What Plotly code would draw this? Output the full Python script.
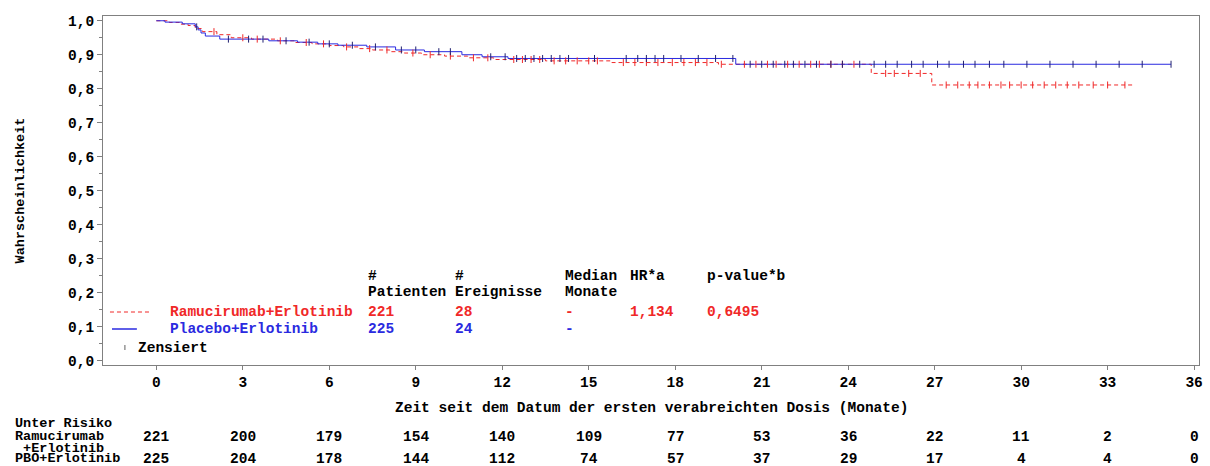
import numpy as np
import plotly.graph_objects as go

# Kaplan-Meier step data (event times in months, survival after each event)
ram_times = [0.45, 0.8, 1.1, 1.35, 1.6, 2.1, 2.6, 3.3, 4.2, 4.8, 5.4, 6.0, 6.5, 7.0,
             7.5, 8.1, 8.6, 9.2, 10.0, 10.8, 11.7, 13.5, 15.8, 19.5, 24.8, 26.9]
ram_surv = [0.995, 0.990, 0.986, 0.977, 0.968, 0.959, 0.950, 0.946, 0.941, 0.936,
            0.932, 0.927, 0.923, 0.918, 0.914, 0.909, 0.905, 0.900, 0.896, 0.891,
            0.886, 0.882, 0.877, 0.872, 0.845, 0.811]
ram_end = 33.9
ram_censor = [2.0, 3.0, 3.5, 4.3, 5.2, 5.8, 6.6, 7.4, 8.0, 8.9, 9.5, 10.2, 11.0, 11.5,
              12.4, 12.7, 13.0, 13.3, 13.8, 14.2, 14.6, 15.0, 15.3, 16.2, 16.6, 17.0,
              17.4, 17.9, 18.3, 18.7, 19.1, 19.6, 20.4, 20.8, 21.2, 21.5, 21.9, 22.3,
              22.7, 23.0, 23.4, 23.8, 24.2, 25.3, 25.6, 26.1, 26.5, 27.4, 27.8, 28.2,
              28.5, 28.9, 29.3, 29.6, 30.0, 30.4, 30.8, 31.2, 31.6, 32.0, 32.5, 33.0,
              33.6]

pbo_times = [0.3, 0.9, 1.35, 1.45, 1.55, 1.7, 2.2, 3.9, 4.9, 5.6, 6.3, 7.3, 8.3, 9.3,
             10.6, 11.3, 12.2, 20.1]
pbo_surv = [0.996, 0.991, 0.982, 0.973, 0.964, 0.955, 0.946, 0.941, 0.937, 0.932,
            0.928, 0.923, 0.914, 0.909, 0.900, 0.894, 0.889, 0.872]
pbo_end = 35.2
pbo_censor = [1.4, 2.5, 3.2, 3.7, 4.5, 5.3, 6.0, 6.8, 7.6, 8.5, 9.0, 9.8, 10.2, 11.6,
              12.1, 12.5, 12.8, 13.1, 13.4, 13.7, 14.0, 14.3, 15.2, 16.3, 16.7, 17.0,
              17.3, 17.6, 18.2, 18.8, 19.4, 20.0, 20.6, 21.0, 21.4, 21.8, 22.1, 22.5,
              22.9, 23.4, 23.8, 24.4, 24.9, 25.3, 25.7, 26.2, 26.6, 27.1, 27.5, 28.0,
              28.4, 28.9, 29.4, 30.2, 31.0, 31.8, 32.6, 33.4, 34.2, 35.2]

# Number at risk table
risk_months = [0, 3, 6, 9, 12, 15, 18, 21, 24, 27, 30, 33, 36]
risk_ram = [221, 200, 179, 154, 140, 109, 77, 53, 36, 22, 11, 2, 0]
risk_pbo = [225, 204, 178, 144, 112, 74, 57, 37, 29, 17, 4, 4, 0]

RED = "#F02828"
BLUE = "#2A2AE0"
FONT = "Liberation Mono"
FS = 14.5


def step_xy(times, surv, end):
    return [0.0] + list(times) + [end], [1.0] + list(surv) + [surv[-1]]


def surv_at(times, surv, t):
    idx = np.searchsorted(np.asarray(times), np.asarray(t), side="right")
    s = np.concatenate([[1.0], surv])
    return s[idx]


fig = go.Figure()

x, y = step_xy(ram_times, ram_surv, ram_end)
fig.add_trace(go.Scatter(x=x, y=y, mode="lines", line=dict(color=RED, width=1, dash="4px,3px"),
                         line_shape="hv", showlegend=False))
x, y = step_xy(pbo_times, pbo_surv, pbo_end)
fig.add_trace(go.Scatter(x=x, y=y, mode="lines", line=dict(color=BLUE, width=1),
                         line_shape="hv", showlegend=False))

fig.add_trace(go.Scatter(x=ram_censor, y=surv_at(ram_times, ram_surv, ram_censor), mode="markers",
                         marker=dict(symbol="line-ns", size=5, line=dict(color=RED, width=1)),
                         showlegend=False))
fig.add_trace(go.Scatter(x=pbo_censor, y=surv_at(pbo_times, pbo_surv, pbo_censor), mode="markers",
                         marker=dict(symbol="line-ns", size=5, line=dict(color="#202070", width=1)),
                         showlegend=False))

L, R, T, B = 103, 7, 16, 101
W, H = 1210, 466
PW, PH = W - L - R, H - T - B


def px(xp):
    return (xp - L) / PW


def py(yp):
    return (H - B - yp) / PH


annotations = []


def text(s, xp, yp, color="black", xanchor="left", xref="paper", size=FS):
    annotations.append(dict(text=s, x=xp if xref != "paper" else px(xp), y=py(yp),
                            xref=xref, yref="paper", xanchor=xanchor, yanchor="middle",
                            showarrow=False, font=dict(family=FONT, size=size, color=color)))


# legend block with summary statistics
text("<b>#</b>", 367, 276)
text("<b>Patienten</b>", 367, 292)
text("<b>#</b>", 454, 276)
text("<b>Ereignisse</b>", 454, 292)
text("<b>Median</b>", 565, 276)
text("<b>Monate</b>", 565, 292)
text("<b>HR*a</b>", 630, 276)
text("<b>p-value*b</b>", 707, 276)

text("<b>Ramucirumab+Erlotinib</b>", 168, 312, RED)
text("<b>221</b>", 367, 312, RED)
text("<b>28</b>", 454, 312, RED)
text("<b>-</b>", 565, 312, RED)
text("<b>1,134</b>", 630, 312, RED)
text("<b>0,6495</b>", 707, 312, RED)

text("<b>Placebo+Erlotinib</b>", 168, 329, BLUE)
text("<b>225</b>", 367, 329, BLUE)
text("<b>24</b>", 454, 329, BLUE)
text("<b>-</b>", 565, 329, BLUE)

text("<b>Zensiert</b>", 136, 348)

shapes = [
    dict(type="line", xref="paper", yref="paper", x0=px(110), x1=px(150), y0=py(312), y1=py(312),
         line=dict(color=RED, width=1, dash="4px,3px")),
    dict(type="line", xref="paper", yref="paper", x0=px(112), x1=px(137), y0=py(329), y1=py(329),
         line=dict(color=BLUE, width=1.5)),
    dict(type="line", xref="paper", yref="paper", x0=px(125), x1=px(125), y0=py(345), y1=py(350),
         line=dict(color="#606060", width=1)),
]

# x-axis title
annotations.append(dict(text="<b>Zeit seit dem Datum der ersten verabreichten Dosis (Monate)</b>",
                        x=0.5, y=py(408), xref="paper", yref="paper", showarrow=False,
                        xanchor="center", yanchor="middle",
                        font=dict(family=FONT, size=FS, color="black")))

# number at risk rows
RS = 13.5
text("<b>Unter Risiko</b>", 13, 424, size=RS)
text("<b>Ramucirumab</b>", 13, 436, size=RS)
text("<b> +Erlotinib</b>", 13, 448, size=RS)
text("<b>PBO+Erlotinib</b>", 13, 459, size=RS)
for m, a, b in zip(risk_months, risk_ram, risk_pbo):
    text(f"<b>{a}</b>", m, 437, xanchor="center", xref="x")
    text(f"<b>{b}</b>", m, 459, xanchor="center", xref="x")

tickfont = dict(family=FONT, size=FS, color="black", weight="bold")

fig.update_layout(
    width=W, height=H,
    margin=dict(l=L, r=R, t=T, b=B),
    plot_bgcolor="white", paper_bgcolor="white",
    separators=",.",
    font=dict(family=FONT, size=FS, color="black"),
    annotations=annotations,
    shapes=shapes,
    xaxis=dict(range=[-1.85, 36.17], tickvals=risk_months, ticks="outside", ticklen=4,
               tickcolor="#808080", showline=True, linecolor="#808080", mirror=True,
               showgrid=False, zeroline=False, tickfont=tickfont),
    yaxis=dict(range=[-0.013, 1.014], dtick=0.1, tick0=0, tickformat=".1f", ticks="outside",
               ticklen=5, tickcolor="#808080", showline=True, linecolor="#808080", mirror=True,
               showgrid=False, zeroline=False,
               minor=dict(dtick=0.05, ticks="outside", ticklen=3, tickcolor="#808080", showgrid=False),
               tickfont=tickfont,
               title=dict(text="<b>Wahrscheinlichkeit</b>", standoff=40,
                          font=dict(family=FONT, size=13.5, color="black"))),
)

fig.write_html("out.html")
